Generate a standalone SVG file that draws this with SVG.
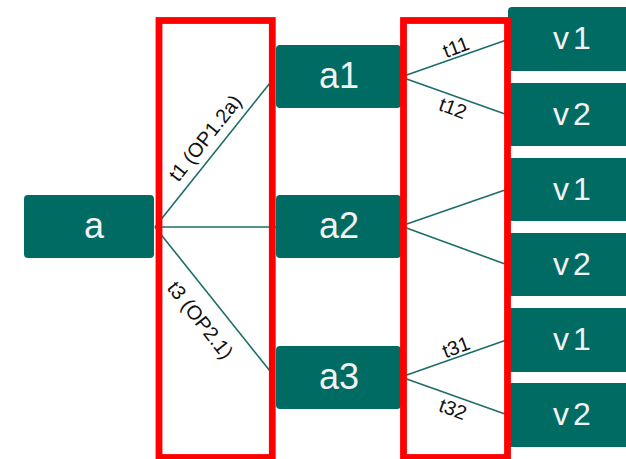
<svg xmlns="http://www.w3.org/2000/svg" width="626" height="459" viewBox="0 0 626 459">
  <style>
    .node { fill: #006B63; }
    .ntxt { font-family: "Liberation Sans", Arial, sans-serif; fill: #F2F2F2; }
    .big { font-size: 36px; text-anchor: middle; }
    .val { font-size: 32px; letter-spacing: 4px; }
    .edge { stroke: #1B6E68; stroke-width: 1.6; fill: none; }
    .lbl { font-family: "Liberation Sans", Arial, sans-serif; font-size: 20px; fill: #111; text-anchor: middle; }
    .frame { fill: none; stroke: #FF0000; stroke-width: 6.8; }
  </style>

  <!-- connectors -->
  <g id="connectors">
    <line class="edge" x1="155" y1="227" x2="270" y2="83"/>
    <line class="edge" x1="155" y1="227" x2="277" y2="227"/>
    <line class="edge" x1="155" y1="227" x2="270" y2="371"/>
    <line class="edge" x1="401" y1="77" x2="505" y2="40.6"/>
    <line class="edge" x1="401" y1="77" x2="505" y2="114"/>
    <line class="edge" x1="401" y1="226" x2="505" y2="190"/>
    <line class="edge" x1="401" y1="226" x2="505" y2="264"/>
    <line class="edge" x1="401" y1="377" x2="505" y2="340.6"/>
    <line class="edge" x1="401" y1="377" x2="505" y2="414"/>
    <text class="lbl" transform="translate(205,138) rotate(-51.5)" y="7">t1 (OP1.2a)</text>
    <text class="lbl" transform="translate(200.5,320) rotate(51.6)" y="7">t3 (OP2.1)</text>
    <text class="lbl" transform="translate(456,47) rotate(-20.4)" y="7">t11</text>
    <text class="lbl" transform="translate(453,108) rotate(20.7)" y="7">t12</text>
    <text class="lbl" transform="translate(456,347) rotate(-20.4)" y="7">t31</text>
    <text class="lbl" transform="translate(453,409) rotate(20.7)" y="7">t32</text>
  </g>

  <!-- root node -->
  <g id="node-a">
    <rect class="node" x="24" y="195" width="130" height="63" rx="4"/>
    <text class="ntxt big" x="94" y="238">a</text>
  </g>

  <!-- middle nodes -->
  <g id="node-a1">
    <rect class="node" x="276" y="45" width="125" height="63" rx="4"/>
    <text class="ntxt big" x="339" y="88">a1</text>
  </g>
  <g id="node-a2">
    <rect class="node" x="276" y="195" width="125" height="63" rx="4"/>
    <text class="ntxt big" x="339" y="238">a2</text>
  </g>
  <g id="node-a3">
    <rect class="node" x="276" y="346" width="125" height="63" rx="4"/>
    <text class="ntxt big" x="339" y="389">a3</text>
  </g>

  <!-- value nodes -->
  <g id="node-v1-a1">
    <rect class="node" x="508" y="7" width="130" height="64" rx="4"/>
    <text class="ntxt val" x="553" y="49">v1</text>
  </g>
  <g id="node-v2-a1">
    <rect class="node" x="508" y="83" width="130" height="63" rx="4"/>
    <text class="ntxt val" x="553" y="125">v2</text>
  </g>
  <g id="node-v1-a2">
    <rect class="node" x="508" y="158" width="130" height="63" rx="4"/>
    <text class="ntxt val" x="553" y="200">v1</text>
  </g>
  <g id="node-v2-a2">
    <rect class="node" x="508" y="233" width="130" height="63" rx="4"/>
    <text class="ntxt val" x="553" y="275">v2</text>
  </g>
  <g id="node-v1-a3">
    <rect class="node" x="508" y="308" width="130" height="64" rx="4"/>
    <text class="ntxt val" x="553" y="350">v1</text>
  </g>
  <g id="node-v2-a3">
    <rect class="node" x="508" y="383" width="130" height="64" rx="4"/>
    <text class="ntxt val" x="553" y="425">v2</text>
  </g>

  <!-- highlight frames -->
  <g id="frames">
    <rect class="frame" x="159" y="20.5" width="113.3" height="437"/>
    <rect class="frame" x="403.5" y="20.5" width="104" height="437"/>
  </g>
</svg>
